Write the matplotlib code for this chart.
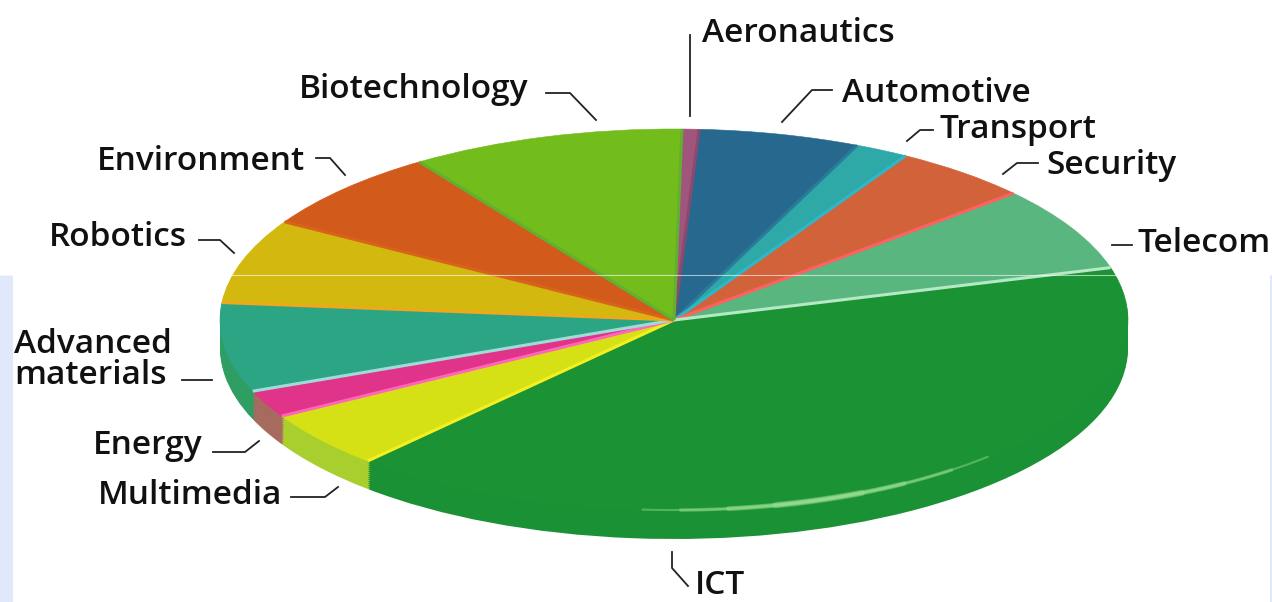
import numpy as np
import matplotlib
matplotlib.use("Agg")
import matplotlib.pyplot as plt

# Shares, clockwise starting at the top
sectors = ["Aeronautics", "Automotive", "Transport", "Security", "Telecom", "ICT",
           "Multimedia", "Energy", "Advanced\nmaterials", "Robotics", "Environment", "Biotechnology"]
shares = [0.6, 5.7, 1.9, 4.9, 7.1, 41.0, 4.8, 2.3, 7.5, 7.1, 6.9, 9.7]

top_colors = ["#a0557c", "#27688f", "#2fa8a8", "#d2623a", "#59b67f", "#1b9233",
              "#d5e114", "#e0338a", "#2ca585", "#d3b80f", "#d25a1a", "#72bc1c"]
side_colors = ["#80406a", "#1f5575", "#25908f", "#b04f2c", "#489a6a", "#1b9135",
               "#a8cf2e", "#a66b5e", "#2f9e63", "#b09a0c", "#b04a14", "#5fa018"]
edge_colors = ["#8a4a70", "#2a7a9a", "#2cb8c8", "#ff6060", "#b5e8c5", "#f5ee20",
               "#ff66bb", "#9fdcd8", "#f0a818", "#d8641a", "#62b030", "#62b030"]

W, H = 1272, 602
cx, cy, rx, ry = 674, 320, 454, 191
depth = 28
start_angle = 89

fig = plt.figure(figsize=(W / 100, H / 100), dpi=100, facecolor="white")

# Overlay in pixel coordinates for background, leader lines and labels
bg = fig.add_axes([0, 0, 1, 1])
bg.set_xlim(0, W)
bg.set_ylim(H, 0)
bg.axis("off")
bg.axvspan(0, 13, ymin=0, ymax=1 - 275 / H, color="#e2e8fc", lw=0)
bg.axvspan(1270, W, ymin=0, ymax=1 - 275 / H, color="#e2e8fc", lw=0)

# Pie axes: unit circle is stretched into the tilted ellipse
ax = fig.add_axes([0, 0, 1, 1])
ax.patch.set_alpha(0)

# Side wall, built up from stacked pies
for d in np.linspace(depth, 1, 15):
    wedges, _ = ax.pie(shares, colors=side_colors, startangle=start_angle, counterclock=False,
                       center=(0, -d / ry), radius=1, wedgeprops={"linewidth": 0})

wedges, _ = ax.pie(shares, colors=top_colors, startangle=start_angle, counterclock=False,
                   wedgeprops={"linewidth": 0.4})
for w, c in zip(wedges, top_colors):
    w.set_edgecolor(c)

ax.set_aspect("auto")
ax.set_xlim(-cx / rx, (W - cx) / rx)
ax.set_ylim((cy - H) / ry, cy / ry)

# Light seam along the clockwise end of each slice
ends = start_angle - np.cumsum(shares) / np.sum(shares) * 360
for ang, c in zip(ends, edge_colors):
    ax.plot([0, np.cos(np.radians(ang))], [0, np.sin(np.radians(ang))], color=c, lw=2.2,
            solid_capstyle="butt")

# Shine on the ICT rim
theta = np.radians(np.linspace(-94, -46, 80))
for lw, alpha, t0, t1 in [(1.5, 0.4, 0, 80), (2.5, 0.4, 8, 70), (3.5, 0.4, 18, 58), (4.5, 0.35, 28, 48)]:
    ax.plot(0.995 * np.cos(theta[t0:t1]), 0.995 * np.sin(theta[t0:t1]),
            color="#a8e8a0", lw=lw, alpha=alpha, solid_capstyle="round")

# Leaders and labels on top
top = fig.add_axes([0, 0, 1, 1])
top.set_xlim(0, W)
top.set_ylim(H, 0)
top.axis("off")
top.patch.set_alpha(0)

top.plot([0, 1270], [275, 275], color="white", lw=0.8, alpha=0.6)

leaders = [
    ([690, 690], [35, 116]),
    ([782, 812, 832], [122, 90, 90]),
    ([907, 920, 933], [141, 130, 130]),
    ([1003, 1017, 1038], [174, 163, 163]),
    ([1112, 1132], [245, 245]),
    ([672, 672, 688], [552, 568, 586]),
    ([338, 325, 291], [487, 497, 497]),
    ([259, 245, 213], [441, 452, 452]),
    ([182, 212], [380, 380]),
    ([234, 220, 199], [253, 240, 240]),
    ([345, 330, 316], [175, 158, 158]),
    ([596, 570, 546], [120, 93, 93]),
]
label_pos = [(702, 33), (842, 93), (940, 130), (1046, 165),
             (1138, 244), (695, 585), (98, 496), (93, 445),
             (14, 360), (49, 238), (97, 161), (299, 90)]

for xs, ys in leaders:
    top.plot(xs, ys, color="#222222", lw=1.3)
for name, (x, y) in zip(sectors, label_pos):
    top.text(x, y, name, ha="left", va="center", family="Open Sans", fontweight="semibold",
             fontsize=24, color="#111111", linespacing=0.95)

fig.savefig("out.png", dpi=100)
